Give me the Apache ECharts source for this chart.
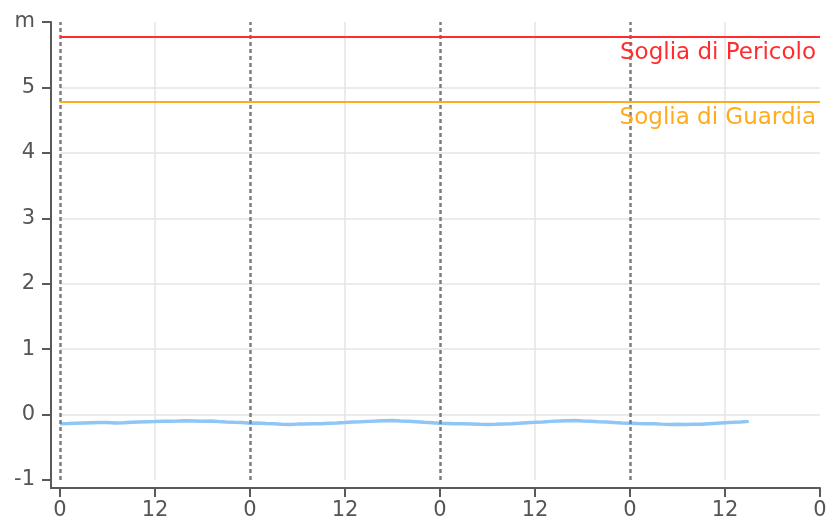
<!DOCTYPE html>
<html>
<head>
<meta charset="utf-8">
<script src="https://cdn.jsdelivr.net/npm/echarts@6/dist/echarts.min.js"></script>
<style>
  html, body { margin: 0; padding: 0; background: #fff; }
  #chart { width: 830px; height: 523px; }
</style>
</head>
<body>
<div id="chart"></div>
<script>
// ore dall'inizio del periodo (asse x), una lettura ogni ora
const hours = [];
for (let h = 0; h < 88; h++) hours.push(h);

// livello idrometrico (m)
const levels = [
  -0.142, -0.138, -0.133, -0.128, -0.124, -0.121, -0.123, -0.129, -0.126, -0.118, -0.112, -0.109,
  -0.107, -0.103, -0.101, -0.098, -0.094, -0.097, -0.101, -0.099, -0.106, -0.112, -0.117, -0.121,
  -0.131, -0.128, -0.137, -0.142, -0.148, -0.151, -0.146, -0.143, -0.139, -0.141, -0.134, -0.128,
  -0.121, -0.113, -0.109, -0.104, -0.099, -0.093, -0.091, -0.098, -0.102, -0.109, -0.118, -0.124,
  -0.132, -0.136, -0.141, -0.139, -0.144, -0.149, -0.152, -0.148, -0.143, -0.141, -0.133, -0.124,
  -0.119, -0.112, -0.104, -0.099, -0.093, -0.091, -0.097, -0.101, -0.108, -0.113, -0.121, -0.128,
  -0.131, -0.137, -0.142, -0.139, -0.146, -0.151, -0.148, -0.152, -0.149, -0.147, -0.139, -0.131,
  -0.124, -0.119, -0.113, -0.104
];

// soglie (m)
const thresholdNames = ["Soglia di Pericolo", "Soglia di Guardia"];
const thresholdValues = [5.78, 4.78];
const thresholdColors = ["#ff2d2d", "#ffab1f"];

// inizio di ogni giorno (linee tratteggiate)
const dayStarts = [0, 24, 48, 72];

const yTicks = [-1, 0, 1, 2, 3, 4, 5, 6];
const yUnit = "m";

const axisColor = "#5a5a5a";
const labelColor = "#555";
const gridColor = "#e4e4e4";
const font = "DejaVu Sans";

let myChart = echarts.init(document.getElementById("chart"));

let option = {
  animation: false,
  grid: {
    left: 60,
    right: 10,
    top: 22,
    bottom: 43,
    containLabel: false,
  },
  xAxis: {
    type: "value",
    min: 0,
    max: 96,
    interval: 12,
    offset: 8,
    axisLine: { onZero: false, lineStyle: { color: axisColor, width: 2 } },
    axisTick: { length: 9, lineStyle: { color: axisColor, width: 2 } },
    axisLabel: {
      color: labelColor,
      fontFamily: font,
      fontSize: 21,
      margin: 12,
      formatter: (v) => String(v % 24),
    },
    splitLine: {
      show: true,
      lineStyle: { color: ["transparent", gridColor], width: 1.5 },
    },
  },
  yAxis: {
    type: "value",
    min: yTicks[0],
    max: yTicks[yTicks.length - 1],
    interval: 1,
    offset: 9,
    axisLine: { show: true, onZero: false, lineStyle: { color: axisColor, width: 2 } },
    axisTick: { show: true, length: 9, lineStyle: { color: axisColor, width: 2 } },
    axisLabel: {
      color: labelColor,
      fontFamily: font,
      fontSize: 21,
      margin: 16,
      formatter: (v) => (v === yTicks[yTicks.length - 1] ? yUnit : String(v)),
    },
    splitLine: {
      show: true,
      lineStyle: {
        color: yTicks.map((t, i) => (i === 0 || i === yTicks.length - 1 ? "transparent" : gridColor)),
        width: 1.5,
      },
    },
  },
  series: [
    {
      name: "Livello",
      type: "line",
      symbol: "none",
      data: hours.map((h, i) => [h, levels[i]]),
      lineStyle: { color: "#90c6f6", width: 3.5 },
      z: 3,
    },
    {
      name: "giorni",
      type: "line",
      data: [],
      markLine: {
        silent: true,
        symbol: "none",
        label: { show: false },
        lineStyle: { color: "#7e7e7e", type: [4, 3], width: 2.5 },
        data: dayStarts.map((d) => ({ xAxis: d })),
      },
      z: 4,
    },
    {
      name: "soglie",
      type: "line",
      data: [],
      markLine: {
        silent: true,
        symbol: "none",
        data: thresholdValues.map((v, i) => ({
          yAxis: v,
          lineStyle: { color: thresholdColors[i], type: "solid", width: 2 },
          label: {
            show: true,
            position: "insideEndBottom",
            formatter: thresholdNames[i],
            color: thresholdColors[i],
            fontFamily: font,
            fontSize: 23,
            distance: [4, 5],
          },
        })),
      },
      z: 2,
    },
  ],
  graphic: [
    {
      type: "polyline",
      shape: { points: [[51, 480], [51, 488], [60, 488]] },
      style: { stroke: axisColor, lineWidth: 2, fill: null },
      silent: true,
    },
  ],
};

myChart.setOption(option);
</script>
</body>
</html>
